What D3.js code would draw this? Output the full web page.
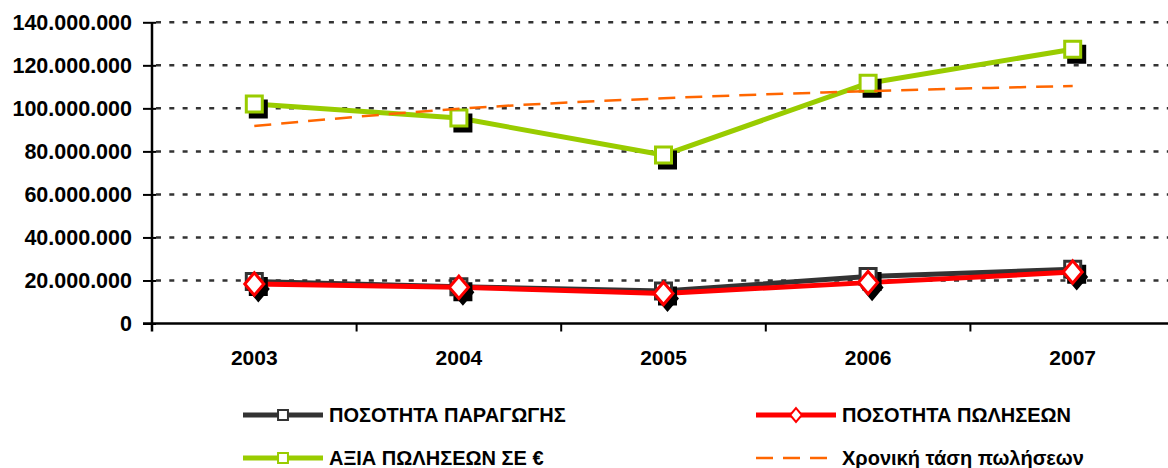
<!DOCTYPE html>
<html>
<head>
<meta charset="utf-8">
<script src="https://cdn.jsdelivr.net/npm/d3@7"></script>
<style>
	body { margin: 0; background: #fff; }
	svg { display: block; font-family: "Liberation Sans", Arial, sans-serif; font-weight: bold; }
</style>
</head>
<body>
<div id="chart"></div>
<script>
// data
const years = ['2003', '2004', '2005', '2006', '2007'];
const production = [19.5e6, 17.1e6, 15.1e6, 21.8e6, 25.2e6];
const sales = [18.4e6, 16.8e6, 14.0e6, 19.0e6, 23.9e6];
const salesValue = [102.0e6, 95.5e6, 78.3e6, 111.7e6, 127.5e6];
const trend = [91.8e6, 99.8e6, 104.7e6, 108.0e6, 110.4e6];
const yTicks = [0, 20e6, 40e6, 60e6, 80e6, 100e6, 120e6, 140e6];
const legendLabels = ['ΠΟΣΟΤΗΤΑ ΠΑΡΑΓΩΓΗΣ', 'ΠΟΣΟΤΗΤΑ ΠΩΛΗΣΕΩΝ', 'ΑΞΙΑ ΠΩΛΗΣΕΩΝ ΣΕ €', 'Χρονική τάση πωλήσεων'];

renderChart();

function renderChart() {
	let width = 1168, height = 468;
	let svg = d3.select('#chart').append('svg')
		.attr('width', width)
		.attr('height', height);

	let x = d3.scaleBand().domain(years).range([152, 1175]);
	let bw = x.bandwidth();
	let y = d3.scaleLinear().domain([0, 140e6]).range([323.5, 22.3]);
	let cx = function(d) { return x(d) + bw / 2; };

	let locale = d3.formatLocale({decimal: ',', thousands: '.', grouping: [3], currency: ['', '€']});
	let fmt = locale.format(',d');

	//grid lines
	svg.append('g').selectAll('line')
		.data(yTicks.filter(function(d) { return d > 0; }))
		.join('line')
		.attr('x1', 156).attr('x2', width)
		.attr('y1', function(d) { return y(d); })
		.attr('y2', function(d) { return y(d); })
		.attr('stroke', '#333')
		.attr('stroke-width', 2.5)
		.attr('stroke-dasharray', '5,8.3');

	//y axis, ticks cross the axis line
	let yAxis = svg.append('g')
		.attr('transform', 'translate(152,0)')
		.call(d3.axisLeft(y).tickValues(yTicks).tickFormat(fmt).tickSize(9).tickSizeOuter(0));
	yAxis.select('.domain').remove();
	yAxis.selectAll('.tick line')
		.attr('x1', 4)
		.attr('stroke', '#000').attr('stroke-width', 2);
	yAxis.selectAll('.tick text')
		.attr('x', -20)
		.attr('fill', '#000')
		.style('font-size', '21.5px')
		.style('font-family', '"Liberation Sans", Arial, sans-serif')
		.style('font-weight', 'bold');
	svg.append('line')
		.attr('x1', 152).attr('x2', 152)
		.attr('y1', y(140e6)).attr('y2', y(0) + 8)
		.attr('stroke', '#000').attr('stroke-width', 2.5);

	//x axis
	svg.append('line')
		.attr('x1', 143).attr('x2', width)
		.attr('y1', y(0)).attr('y2', y(0))
		.attr('stroke', '#000').attr('stroke-width', 2.5);
	svg.append('g').selectAll('line')
		.data(years.slice(1))
		.join('line')
		.attr('x1', function(d) { return x(d); })
		.attr('x2', function(d) { return x(d); })
		.attr('y1', y(0)).attr('y2', y(0) + 8)
		.attr('stroke', '#000').attr('stroke-width', 2);
	svg.append('g').selectAll('text')
		.data(years)
		.join('text')
		.attr('x', cx)
		.attr('y', 364.5)
		.attr('text-anchor', 'middle')
		.style('font-size', '21px')
		.text(function(d) { return d; });

	let line = d3.line()
		.x(function(d, i) { return cx(years[i]); })
		.y(function(d) { return y(d); });

	//series: black production, red sales, green value
	let series = [
		{values: production, color: '#333333', marker: 'square'},
		{values: sales, color: '#FF0000', marker: 'diamond'},
		{values: salesValue, color: '#99CC00', marker: 'square'}
	];

	series.forEach(function(s) {
		svg.append('path')
			.attr('d', line(s.values))
			.attr('fill', 'none')
			.attr('stroke', s.color)
			.attr('stroke-width', 5)
			.attr('stroke-linejoin', 'round');
	});

	series.forEach(function(s) {
		let g = svg.append('g');
		s.values.forEach(function(v, i) {
			drawMarker(g, cx(years[i]), y(v), s.marker, s.color, true, 1);
		});
	});

	//trend line (logarithmic-looking, read at each year)
	svg.append('path')
		.attr('d', line.curve(d3.curveMonotoneX)(trend))
		.attr('fill', 'none')
		.attr('stroke', '#FF6600')
		.attr('stroke-width', 2.5)
		.attr('stroke-dasharray', '17,10');

	//legend
	let legend = [
		{label: legendLabels[0], color: '#333333', marker: 'square', x: 243, y: 415},
		{label: legendLabels[1], color: '#FF0000', marker: 'diamond', x: 756, y: 415},
		{label: legendLabels[2], color: '#99CC00', marker: 'square', x: 243, y: 458},
		{label: legendLabels[3], color: '#FF6600', marker: null, x: 756, y: 458}
	];
	legend.forEach(function(l) {
		let g = svg.append('g');
		let len = 80;
		g.append('line')
			.attr('x1', l.x).attr('x2', l.x + len)
			.attr('y1', l.y).attr('y2', l.y)
			.attr('stroke', l.color)
			.attr('stroke-width', l.marker ? 5 : 2.5)
			.attr('stroke-dasharray', l.marker ? null : '17,10');
		if (l.marker) drawMarker(g, l.x + len / 2, l.y, l.marker, l.color, false, 0.62);
		g.append('text')
			.attr('x', l.x + len + 6)
			.attr('y', l.y)
			.attr('dy', '0.36em')
			.style('font-size', '20px')
			.text(l.label);
	});
}

function drawMarker(g, px, py, type, color, shadow, k) {
	let s = (type == 'square' ? 16 : 7) * k;
	let path;
	if (type == 'square') {
		path = 'M' + (-s / 2) + ',' + (-s / 2) + 'h' + s + 'v' + s + 'h' + (-s) + 'Z';
	} else {
		s = s * 1.6;
		path = 'M0,' + (-s) + 'L' + s * 0.85 + ',0L0,' + s + 'L' + (-s * 0.85) + ',0Z';
	}
	if (shadow) {
		g.append('path')
			.attr('d', path)
			.attr('transform', 'translate(' + (px + 4) + ',' + (py + 5) + ')')
			.attr('fill', '#000')
			.attr('stroke', '#000')
			.attr('stroke-width', 3);
	}
	g.append('path')
		.attr('d', path)
		.attr('transform', 'translate(' + px + ',' + py + ')')
		.attr('fill', '#fff')
		.attr('stroke', color)
		.attr('stroke-width', k < 1 ? 2 : 3);
}
</script>
</body>
</html>
